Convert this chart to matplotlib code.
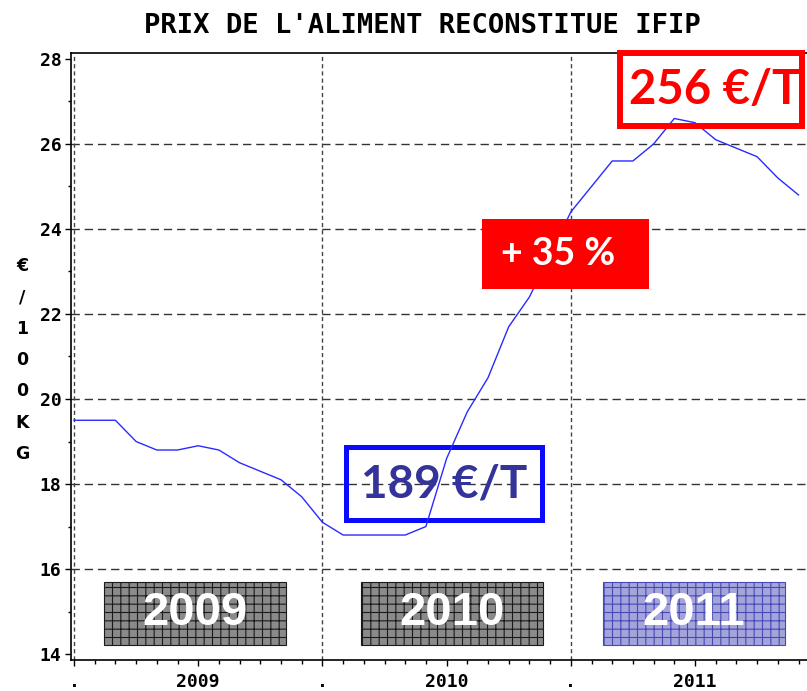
import matplotlib
matplotlib.use("Agg")
import matplotlib.pyplot as plt
from matplotlib.patches import Rectangle
from matplotlib.ticker import MultipleLocator

# months since january 2009, price in euros per 100 kg
months = list(range(36))
prix = [19.5, 19.5, 19.5, 19.0, 18.8, 18.8, 18.9, 18.8, 18.5, 18.3, 18.1, 17.7,
        17.1, 16.8, 16.8, 16.8, 16.8, 17.0, 18.6, 19.7, 20.5, 21.7, 22.4, 23.4,
        24.4, 25.0, 25.6, 25.6, 26.0, 26.6, 26.5, 26.1, 25.9, 25.7, 25.2, 24.8]

year_names = ['2009', '2010', '2011']
year_ticks = [6, 18, 30]
year_starts = [0, 12, 24]
year_box_x = [(1.45, 10.24), (13.86, 22.64), (25.56, 34.35)]
year_box_y = (14.22, 15.69)
year_face = ['#8a8a8a', '#8a8a8a', '#a4a4dc']
year_hatch = ['#1a1a1a', '#1a1a1a', '#4848b4']

MONO = 'DejaVu Sans Mono'
SANS = 'Lato'

fig = plt.figure(figsize=(8.07, 6.91), dpi=100)
ax = fig.add_axes([71 / 807, 31 / 691, 736 / 807, 607 / 691])
ax.set_xlim(-0.145, 35.41)
ax.set_ylim(13.86, 28.14)
ax.spines['right'].set_visible(False)
for s in ['left', 'top', 'bottom']:
    ax.spines[s].set_linewidth(1.2)

# grid
for v in range(16, 28, 2):
    ax.axhline(v, color='#333333', lw=1, ls=(0, (6, 3.5)), zorder=0.5)
for v in year_starts:
    ax.axvline(v, color='#444444', lw=1, ls=(0, (3, 2.2)), zorder=0.5)

ax.plot(months, prix, color='#2a2aff', lw=1, zorder=3)

# year boxes
plt.rcParams['hatch.linewidth'] = 0.8
for (x0, x1), fc, hc, name in zip(year_box_x, year_face, year_hatch, year_names):
    ax.add_patch(Rectangle((x0, year_box_y[0]), x1 - x0, year_box_y[1] - year_box_y[0],
                           facecolor=fc, edgecolor=hc, hatch='++', lw=0.8, zorder=2))
    ax.text((x0 + x1) / 2, sum(year_box_y) / 2, name, color='white', fontsize=34,
            fontweight='bold', family='Liberation Sans', ha='center', va='center', zorder=4)

# ticks
ax.set_xticks(year_starts + year_ticks)
ax.set_xticklabels(['.'] * 3 + year_names)
ax.xaxis.set_minor_locator(MultipleLocator(1))
ax.tick_params(axis='x', which='major', length=4.5, width=1, pad=5)
ax.tick_params(axis='x', which='minor', length=3, width=1)
ax.set_yticks(range(14, 29, 2))
ax.yaxis.set_minor_locator(MultipleLocator(1))
ax.tick_params(axis='y', which='major', length=4, width=1, pad=3)
ax.tick_params(axis='y', which='minor', length=2, width=1)
for lab in ax.get_xticklabels() + ax.get_yticklabels():
    lab.set_family(MONO)
    lab.set_fontweight('bold')
    lab.set_fontsize(13)

fig.text(0.524, 1 - 26 / 691, "PRIX DE L'ALIMENT RECONSTITUE IFIP", family=MONO,
         fontweight='bold', fontsize=19.5, ha='center', va='center')
fig.text(22 / 807, 1 - 360 / 691, '\n'.join('€/100KG'), family='DejaVu Sans',
         fontweight='bold', fontsize=12.5, ha='center', va='center', linespacing=1.95)

# annotations
ax.add_patch(Rectangle((13.16, 17.15), 9.47, 1.73, fill=False, edgecolor='#0a0aff',
                       lw=3.6, zorder=2.5))
ax.text(17.9, 17.98, '189 €/T', color='#333399', fontsize=33, fontweight='bold',
        family=SANS, ha='center', va='center', zorder=2.6)

ax.add_patch(Rectangle((19.71, 22.58), 8.07, 1.66, facecolor='#ff0000', edgecolor='none',
                       zorder=5))
ax.text(23.4, 23.4, '+ 35 %', color='white', fontsize=27, fontweight='bold',
        family=SANS, ha='center', va='center', zorder=6)

ax.add_patch(Rectangle((26.38, 26.42), 8.8, 1.72, fill=False, edgecolor='#ff0000',
                       lw=4.3, zorder=5, clip_on=False))
ax.text(30.95, 27.28, '256 €/T', color='#ff0000', fontsize=34, fontweight='bold',
        family=SANS, ha='center', va='center', zorder=6, clip_on=False)

fig.savefig('out.png', dpi=100)
